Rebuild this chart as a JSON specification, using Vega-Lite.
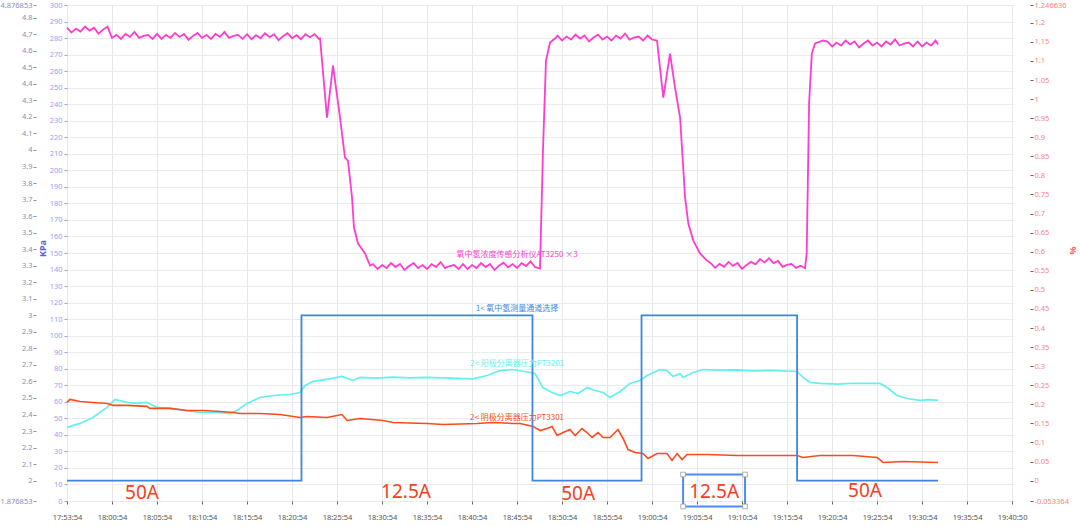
{
  "$schema": "https://vega.github.io/schema/vega-lite/v6.json",
  "width": 947,
  "height": 496,
  "autosize": {"type": "none"},
  "padding": {"left": 67, "top": 5, "right": 66, "bottom": 26},
  "background": "white",
  "config": {
    "view": {"stroke": null},
    "axis": {"labelFont": "Noto Sans", "titleFont": "Noto Sans", "labelFontSize": 7.5, "domain": false, "tickSize": 3, "labelOverlap": false, "labelBound": false, "labelFlush": false}
  },
  "datasets": {
    "lines": [
      {"s":"AT3250","t":"17:55:54","v":4.740},{"s":"AT3250","t":"17:56:24","v":4.710},{"s":"AT3250","t":"17:56:54","v":4.734},{"s":"AT3250","t":"17:57:24","v":4.716},{"s":"AT3250","t":"17:57:54","v":4.746},{"s":"AT3250","t":"17:58:24","v":4.722},{"s":"AT3250","t":"17:58:54","v":4.740},{"s":"AT3250","t":"17:59:24","v":4.704},{"s":"AT3250","t":"17:59:54","v":4.728},{"s":"AT3250","t":"18:00:24","v":4.746},
      {"s":"AT3250","t":"18:00:54","v":4.678},{"s":"AT3250","t":"18:01:24","v":4.696},{"s":"AT3250","t":"18:01:54","v":4.672},{"s":"AT3250","t":"18:02:24","v":4.702},{"s":"AT3250","t":"18:02:54","v":4.684},{"s":"AT3250","t":"18:03:24","v":4.714},{"s":"AT3250","t":"18:03:54","v":4.678},{"s":"AT3250","t":"18:04:24","v":4.690},{"s":"AT3250","t":"18:04:54","v":4.696},{"s":"AT3250","t":"18:05:24","v":4.672},
      {"s":"AT3250","t":"18:05:54","v":4.702},{"s":"AT3250","t":"18:06:24","v":4.672},{"s":"AT3250","t":"18:06:54","v":4.696},{"s":"AT3250","t":"18:07:24","v":4.678},{"s":"AT3250","t":"18:07:54","v":4.708},{"s":"AT3250","t":"18:08:24","v":4.684},{"s":"AT3250","t":"18:08:54","v":4.702},{"s":"AT3250","t":"18:09:24","v":4.666},{"s":"AT3250","t":"18:09:54","v":4.690},{"s":"AT3250","t":"18:10:24","v":4.708},
      {"s":"AT3250","t":"18:10:54","v":4.678},{"s":"AT3250","t":"18:11:24","v":4.696},{"s":"AT3250","t":"18:11:54","v":4.672},{"s":"AT3250","t":"18:12:24","v":4.702},{"s":"AT3250","t":"18:12:54","v":4.684},{"s":"AT3250","t":"18:13:24","v":4.714},{"s":"AT3250","t":"18:13:54","v":4.678},{"s":"AT3250","t":"18:14:24","v":4.690},{"s":"AT3250","t":"18:14:54","v":4.696},{"s":"AT3250","t":"18:15:24","v":4.672},
      {"s":"AT3250","t":"18:15:54","v":4.700},{"s":"AT3250","t":"18:16:24","v":4.670},{"s":"AT3250","t":"18:16:54","v":4.694},{"s":"AT3250","t":"18:17:24","v":4.676},{"s":"AT3250","t":"18:17:54","v":4.706},{"s":"AT3250","t":"18:18:24","v":4.682},{"s":"AT3250","t":"18:18:54","v":4.700},{"s":"AT3250","t":"18:19:24","v":4.664},{"s":"AT3250","t":"18:19:54","v":4.688},{"s":"AT3250","t":"18:20:24","v":4.706},
      {"s":"AT3250","t":"18:20:54","v":4.676},{"s":"AT3250","t":"18:21:24","v":4.694},{"s":"AT3250","t":"18:21:54","v":4.670},{"s":"AT3250","t":"18:22:24","v":4.700},{"s":"AT3250","t":"18:22:54","v":4.682},{"s":"AT3250","t":"18:23:24","v":4.700},{"s":"AT3250","t":"18:23:54","v":4.672},
      {"s":"AT3250","t":"18:24:01","v":4.674},{"s":"AT3250","t":"18:24:47","v":4.196},{"s":"AT3250","t":"18:25:27","v":4.511},{"s":"AT3250","t":"18:26:14","v":4.196},{"s":"AT3250","t":"18:26:47","v":3.954},{"s":"AT3250","t":"18:27:07","v":3.936},{"s":"AT3250","t":"18:27:34","v":3.713},{"s":"AT3250","t":"18:27:47","v":3.531},{"s":"AT3250","t":"18:28:14","v":3.434},{"s":"AT3250","t":"18:29:01","v":3.374},{"s":"AT3250","t":"18:29:34","v":3.301},
      {"s":"AT3250","t":"18:29:54","v":3.310},{"s":"AT3250","t":"18:30:24","v":3.280},{"s":"AT3250","t":"18:30:54","v":3.304},{"s":"AT3250","t":"18:31:24","v":3.286},{"s":"AT3250","t":"18:31:54","v":3.316},{"s":"AT3250","t":"18:32:24","v":3.292},{"s":"AT3250","t":"18:32:54","v":3.310},{"s":"AT3250","t":"18:33:24","v":3.274},{"s":"AT3250","t":"18:33:54","v":3.298},{"s":"AT3250","t":"18:34:24","v":3.316},
      {"s":"AT3250","t":"18:34:54","v":3.286},{"s":"AT3250","t":"18:35:24","v":3.304},{"s":"AT3250","t":"18:35:54","v":3.280},{"s":"AT3250","t":"18:36:24","v":3.310},{"s":"AT3250","t":"18:36:54","v":3.292},{"s":"AT3250","t":"18:37:24","v":3.322},{"s":"AT3250","t":"18:37:54","v":3.286},{"s":"AT3250","t":"18:38:24","v":3.298},{"s":"AT3250","t":"18:38:54","v":3.304},{"s":"AT3250","t":"18:39:24","v":3.280},
      {"s":"AT3250","t":"18:39:54","v":3.310},{"s":"AT3250","t":"18:40:24","v":3.280},{"s":"AT3250","t":"18:40:54","v":3.304},{"s":"AT3250","t":"18:41:24","v":3.286},{"s":"AT3250","t":"18:41:54","v":3.316},{"s":"AT3250","t":"18:42:24","v":3.292},{"s":"AT3250","t":"18:42:54","v":3.310},{"s":"AT3250","t":"18:43:24","v":3.274},{"s":"AT3250","t":"18:43:54","v":3.300},{"s":"AT3250","t":"18:44:24","v":3.318},
      {"s":"AT3250","t":"18:44:54","v":3.290},{"s":"AT3250","t":"18:45:24","v":3.310},{"s":"AT3250","t":"18:45:54","v":3.286},{"s":"AT3250","t":"18:46:24","v":3.316},{"s":"AT3250","t":"18:46:54","v":3.298},{"s":"AT3250","t":"18:47:24","v":3.326},{"s":"AT3250","t":"18:47:54","v":3.292},
      {"s":"AT3250","t":"18:48:27","v":3.283},{"s":"AT3250","t":"18:48:47","v":3.997},{"s":"AT3250","t":"18:49:07","v":4.541},{"s":"AT3250","t":"18:49:34","v":4.650},{"s":"AT3250","t":"18:50:07","v":4.674},
      {"s":"AT3250","t":"18:50:24","v":4.692},{"s":"AT3250","t":"18:50:54","v":4.662},{"s":"AT3250","t":"18:51:24","v":4.686},{"s":"AT3250","t":"18:51:54","v":4.668},{"s":"AT3250","t":"18:52:24","v":4.698},{"s":"AT3250","t":"18:52:54","v":4.674},{"s":"AT3250","t":"18:53:24","v":4.692},{"s":"AT3250","t":"18:53:54","v":4.656},{"s":"AT3250","t":"18:54:24","v":4.680},{"s":"AT3250","t":"18:54:54","v":4.698},
      {"s":"AT3250","t":"18:55:24","v":4.668},{"s":"AT3250","t":"18:55:54","v":4.686},{"s":"AT3250","t":"18:56:24","v":4.662},{"s":"AT3250","t":"18:56:54","v":4.692},{"s":"AT3250","t":"18:57:24","v":4.674},{"s":"AT3250","t":"18:57:54","v":4.704},{"s":"AT3250","t":"18:58:24","v":4.668},{"s":"AT3250","t":"18:58:54","v":4.680},{"s":"AT3250","t":"18:59:24","v":4.686},{"s":"AT3250","t":"18:59:54","v":4.662},
      {"s":"AT3250","t":"19:00:24","v":4.692},{"s":"AT3250","t":"19:00:54","v":4.668},
      {"s":"AT3250","t":"19:01:27","v":4.662},{"s":"AT3250","t":"19:02:09","v":4.317},{"s":"AT3250","t":"19:02:54","v":4.583},{"s":"AT3250","t":"19:03:27","v":4.378},{"s":"AT3250","t":"19:04:01","v":4.196},{"s":"AT3250","t":"19:04:23","v":3.876},{"s":"AT3250","t":"19:04:34","v":3.713},{"s":"AT3250","t":"19:04:56","v":3.555},{"s":"AT3250","t":"19:05:29","v":3.452},{"s":"AT3250","t":"19:06:14","v":3.374},{"s":"AT3250","t":"19:06:59","v":3.332},
      {"s":"AT3250","t":"19:07:24","v":3.317},{"s":"AT3250","t":"19:07:54","v":3.287},{"s":"AT3250","t":"19:08:24","v":3.311},{"s":"AT3250","t":"19:08:54","v":3.293},{"s":"AT3250","t":"19:09:24","v":3.323},{"s":"AT3250","t":"19:09:54","v":3.299},{"s":"AT3250","t":"19:10:24","v":3.317},{"s":"AT3250","t":"19:10:54","v":3.281},{"s":"AT3250","t":"19:11:24","v":3.305},{"s":"AT3250","t":"19:11:54","v":3.323},
      {"s":"AT3250","t":"19:12:24","v":3.308},{"s":"AT3250","t":"19:12:54","v":3.340},{"s":"AT3250","t":"19:13:24","v":3.320},{"s":"AT3250","t":"19:13:54","v":3.345},{"s":"AT3250","t":"19:14:24","v":3.316},{"s":"AT3250","t":"19:14:54","v":3.329},{"s":"AT3250","t":"19:15:24","v":3.293},{"s":"AT3250","t":"19:15:54","v":3.305},{"s":"AT3250","t":"19:16:24","v":3.311},{"s":"AT3250","t":"19:16:54","v":3.287},
      {"s":"AT3250","t":"19:17:24","v":3.300},{"s":"AT3250","t":"19:17:54","v":3.285},{"s":"AT3250","t":"19:18:05","v":3.374},{"s":"AT3250","t":"19:18:21","v":4.281},{"s":"AT3250","t":"19:18:39","v":4.583},{"s":"AT3250","t":"19:19:01","v":4.644},{"s":"AT3250","t":"19:19:54","v":4.662},
      {"s":"AT3250","t":"19:20:24","v":4.656},{"s":"AT3250","t":"19:20:54","v":4.626},{"s":"AT3250","t":"19:21:24","v":4.650},{"s":"AT3250","t":"19:21:54","v":4.632},{"s":"AT3250","t":"19:22:24","v":4.662},{"s":"AT3250","t":"19:22:54","v":4.638},{"s":"AT3250","t":"19:23:24","v":4.656},{"s":"AT3250","t":"19:23:54","v":4.620},{"s":"AT3250","t":"19:24:24","v":4.644},{"s":"AT3250","t":"19:24:54","v":4.662},
      {"s":"AT3250","t":"19:25:24","v":4.632},{"s":"AT3250","t":"19:25:54","v":4.650},{"s":"AT3250","t":"19:26:24","v":4.626},{"s":"AT3250","t":"19:26:54","v":4.656},{"s":"AT3250","t":"19:27:24","v":4.638},{"s":"AT3250","t":"19:27:54","v":4.668},{"s":"AT3250","t":"19:28:24","v":4.632},{"s":"AT3250","t":"19:28:54","v":4.644},{"s":"AT3250","t":"19:29:24","v":4.650},{"s":"AT3250","t":"19:29:54","v":4.626},
      {"s":"AT3250","t":"19:30:24","v":4.656},{"s":"AT3250","t":"19:30:54","v":4.626},{"s":"AT3250","t":"19:31:24","v":4.650},{"s":"AT3250","t":"19:31:54","v":4.632},{"s":"AT3250","t":"19:32:24","v":4.662},{"s":"AT3250","t":"19:32:41","v":4.638},

      {"s":"PT3201","t":"17:55:54","v":2.322},{"s":"PT3201","t":"17:57:21","v":2.346},{"s":"PT3201","t":"17:58:47","v":2.382},{"s":"PT3201","t":"18:00:21","v":2.443},{"s":"PT3201","t":"18:01:14","v":2.491},{"s":"PT3201","t":"18:02:34","v":2.473},{"s":"PT3201","t":"18:03:41","v":2.467},{"s":"PT3201","t":"18:04:47","v":2.473},{"s":"PT3201","t":"18:05:54","v":2.443},{"s":"PT3201","t":"18:07:21","v":2.437},
      {"s":"PT3201","t":"18:09:14","v":2.424},{"s":"PT3201","t":"18:10:41","v":2.412},{"s":"PT3201","t":"18:12:34","v":2.412},{"s":"PT3201","t":"18:14:01","v":2.406},{"s":"PT3201","t":"18:14:47","v":2.424},{"s":"PT3201","t":"18:15:54","v":2.467},{"s":"PT3201","t":"18:17:21","v":2.503},{"s":"PT3201","t":"18:18:47","v":2.515},{"s":"PT3201","t":"18:20:41","v":2.521},{"s":"PT3201","t":"18:21:47","v":2.533},
      {"s":"PT3201","t":"18:22:21","v":2.576},{"s":"PT3201","t":"18:23:14","v":2.600},{"s":"PT3201","t":"18:24:47","v":2.612},{"s":"PT3201","t":"18:26:27","v":2.630},{"s":"PT3201","t":"18:27:41","v":2.606},{"s":"PT3201","t":"18:28:27","v":2.624},{"s":"PT3201","t":"18:30:10","v":2.620},{"s":"PT3201","t":"18:32:07","v":2.626},{"s":"PT3201","t":"18:34:00","v":2.621},{"s":"PT3201","t":"18:35:54","v":2.625},
      {"s":"PT3201","t":"18:38:30","v":2.620},{"s":"PT3201","t":"18:41:01","v":2.616},{"s":"PT3201","t":"18:42:34","v":2.636},{"s":"PT3201","t":"18:44:01","v":2.666},{"s":"PT3201","t":"18:45:27","v":2.672},{"s":"PT3201","t":"18:47:21","v":2.654},{"s":"PT3201","t":"18:47:54","v":2.648},{"s":"PT3201","t":"18:48:47","v":2.563},{"s":"PT3201","t":"18:49:47","v":2.533},{"s":"PT3201","t":"18:50:41","v":2.515},
      {"s":"PT3201","t":"18:51:47","v":2.539},{"s":"PT3201","t":"18:52:41","v":2.527},{"s":"PT3201","t":"18:53:41","v":2.563},{"s":"PT3201","t":"18:54:34","v":2.545},{"s":"PT3201","t":"18:55:27","v":2.533},{"s":"PT3201","t":"18:56:14","v":2.503},{"s":"PT3201","t":"18:57:21","v":2.539},{"s":"PT3201","t":"18:58:27","v":2.588},{"s":"PT3201","t":"18:59:34","v":2.606},{"s":"PT3201","t":"19:00:21","v":2.636},
      {"s":"PT3201","t":"19:01:47","v":2.672},{"s":"PT3201","t":"19:02:34","v":2.666},{"s":"PT3201","t":"19:03:14","v":2.630},{"s":"PT3201","t":"19:04:01","v":2.648},{"s":"PT3201","t":"19:04:21","v":2.624},{"s":"PT3201","t":"19:05:27","v":2.654},{"s":"PT3201","t":"19:06:34","v":2.672},{"s":"PT3201","t":"19:08:30","v":2.668},{"s":"PT3201","t":"19:10:21","v":2.670},{"s":"PT3201","t":"19:12:10","v":2.664},
      {"s":"PT3201","t":"19:14:01","v":2.667},{"s":"PT3201","t":"19:17:01","v":2.660},{"s":"PT3201","t":"19:17:41","v":2.624},{"s":"PT3201","t":"19:18:27","v":2.594},{"s":"PT3201","t":"19:19:34","v":2.588},{"s":"PT3201","t":"19:21:30","v":2.584},{"s":"PT3201","t":"19:23:14","v":2.589},{"s":"PT3201","t":"19:26:14","v":2.588},{"s":"PT3201","t":"19:27:01","v":2.563},{"s":"PT3201","t":"19:28:07","v":2.515},
      {"s":"PT3201","t":"19:29:14","v":2.497},{"s":"PT3201","t":"19:30:41","v":2.485},{"s":"PT3201","t":"19:31:40","v":2.490},{"s":"PT3201","t":"19:32:41","v":2.485},

      {"s":"PT3301","t":"17:55:54","v":2.473},{"s":"PT3301","t":"17:56:14","v":2.491},{"s":"PT3301","t":"17:57:21","v":2.479},{"s":"PT3301","t":"17:58:47","v":2.473},{"s":"PT3301","t":"18:00:21","v":2.467},{"s":"PT3301","t":"18:01:01","v":2.455},{"s":"PT3301","t":"18:02:34","v":2.455},{"s":"PT3301","t":"18:04:47","v":2.449},{"s":"PT3301","t":"18:05:07","v":2.437},{"s":"PT3301","t":"18:07:21","v":2.437},
      {"s":"PT3301","t":"18:09:14","v":2.424},{"s":"PT3301","t":"18:11:01","v":2.424},{"s":"PT3301","t":"18:12:54","v":2.418},{"s":"PT3301","t":"18:14:21","v":2.412},{"s":"PT3301","t":"18:15:07","v":2.406},{"s":"PT3301","t":"18:17:21","v":2.406},{"s":"PT3301","t":"18:19:34","v":2.400},{"s":"PT3301","t":"18:21:47","v":2.382},{"s":"PT3301","t":"18:22:34","v":2.388},{"s":"PT3301","t":"18:24:47","v":2.382},
      {"s":"PT3301","t":"18:26:27","v":2.400},{"s":"PT3301","t":"18:27:01","v":2.364},{"s":"PT3301","t":"18:28:27","v":2.376},{"s":"PT3301","t":"18:31:01","v":2.364},{"s":"PT3301","t":"18:32:07","v":2.352},{"s":"PT3301","t":"18:35:54","v":2.346},{"s":"PT3301","t":"18:37:41","v":2.340},{"s":"PT3301","t":"18:41:27","v":2.346},{"s":"PT3301","t":"18:43:14","v":2.352},{"s":"PT3301","t":"18:45:27","v":2.346},
      {"s":"PT3301","t":"18:46:14","v":2.346},{"s":"PT3301","t":"18:47:41","v":2.328},{"s":"PT3301","t":"18:48:27","v":2.303},{"s":"PT3301","t":"18:49:14","v":2.315},{"s":"PT3301","t":"18:49:47","v":2.328},{"s":"PT3301","t":"18:50:21","v":2.273},{"s":"PT3301","t":"18:51:01","v":2.291},{"s":"PT3301","t":"18:51:47","v":2.309},{"s":"PT3301","t":"18:52:21","v":2.273},{"s":"PT3301","t":"18:53:07","v":2.315},
      {"s":"PT3301","t":"18:53:41","v":2.291},{"s":"PT3301","t":"18:54:14","v":2.261},{"s":"PT3301","t":"18:54:54","v":2.291},{"s":"PT3301","t":"18:55:27","v":2.261},{"s":"PT3301","t":"18:56:14","v":2.261},{"s":"PT3301","t":"18:57:07","v":2.309},{"s":"PT3301","t":"18:57:41","v":2.255},{"s":"PT3301","t":"18:58:14","v":2.188},{"s":"PT3301","t":"18:59:01","v":2.170},{"s":"PT3301","t":"18:59:54","v":2.164},
      {"s":"PT3301","t":"19:00:27","v":2.134},{"s":"PT3301","t":"19:01:27","v":2.164},{"s":"PT3301","t":"19:02:34","v":2.164},{"s":"PT3301","t":"19:03:07","v":2.122},{"s":"PT3301","t":"19:03:41","v":2.164},{"s":"PT3301","t":"19:04:14","v":2.128},{"s":"PT3301","t":"19:04:47","v":2.158},{"s":"PT3301","t":"19:07:01","v":2.158},{"s":"PT3301","t":"19:10:21","v":2.152},{"s":"PT3301","t":"19:14:01","v":2.152},
      {"s":"PT3301","t":"19:17:01","v":2.152},{"s":"PT3301","t":"19:17:41","v":2.140},{"s":"PT3301","t":"19:19:34","v":2.152},{"s":"PT3301","t":"19:23:14","v":2.152},{"s":"PT3301","t":"19:25:54","v":2.140},{"s":"PT3301","t":"19:26:34","v":2.110},{"s":"PT3301","t":"19:28:47","v":2.116},{"s":"PT3301","t":"19:32:41","v":2.110}
    ],
    "step": [
      {"t":"17:55:54","v":2},{"t":"18:21:57","v":3},{"t":"18:47:37","v":2},{"t":"18:59:44","v":3},{"t":"19:17:01","v":2},{"t":"19:32:41","v":2}
    ],
    "labels": [
      {"s":"AT3250","t":"18:45:54","v":3.362,"txt":"氧中氢浓度传感分析仪AT3250 ×3"},
      {"s":"CH","t":"18:45:54","v":3.041,"txt":"1< 氧中氢测量通道选择"},
      {"s":"PT3201","t":"18:45:54","v":2.703,"txt":"2< 阳极分离器压力PT3201"},
      {"s":"PT3301","t":"18:45:54","v":2.376,"txt":"2< 阴极分离器压力PT3301"}
    ],
    "notes": [
      {"t":"18:04:14","v":1.928,"txt":"50A"},
      {"t":"18:33:34","v":1.934,"txt":"12.5A"},
      {"t":"18:52:41","v":1.922,"txt":"50A"},
      {"t":"19:07:48","v":1.934,"txt":"12.5A"},
      {"t":"19:24:34","v":1.940,"txt":"50A"}
    ],
    "box": [{"t":"19:04:21","t2":"19:11:14","v":2.037,"v2":1.844}],
    "handles": [
      {"t":"19:04:21","v":2.037},{"t":"19:11:14","v":2.037},{"t":"19:04:21","v":1.844},{"t":"19:11:14","v":1.844}
    ],
    "pin": [{"t":"19:07:41","v":2.152,"v2":2.037}],
    "kpa": [{"a":0},{"a":300}],
    "pct": [{"b":-0.053364},{"b":1.246636}]
  },
  "layer": [
    {
      "data": {"name": "lines", "format": {"parse": {"t": "utc:'%H:%M:%S'"}}},
      "mark": {"type": "line"},
      "encoding": {
        "x": {
          "field": "t", "type": "temporal",
          "scale": {"type": "utc", "domain": [-2208924246000, -2208917933000]},
          "axis": {
            "orient": "bottom", "title": null, "grid": true, "gridColor": "#e8e8e8", "tickColor": "#666", "tickSize": 3, "labelColor": "#555", "labelPadding": 9, "labelFlush": false,
            "values": [-2208924246000,-2208923946000,-2208923646000,-2208923346000,-2208923046000,-2208922746000,-2208922446000,-2208922146000,-2208921846000,-2208921546000,-2208921246000,-2208920946000,-2208920646000,-2208920346000,-2208920046000,-2208919746000,-2208919446000,-2208919146000,-2208918846000,-2208918546000,-2208918246000,-2208917946000],
            "format": "%H:%M:%S",
            "labelExpr": "datum.label == '17:55:54' ? '17:53:54' : (datum.label == '19:40:54' ? '19:40:50' : datum.label)"
          }
        },
        "y": {
          "field": "v", "type": "quantitative",
          "scale": {"domain": [1.876853, 4.876853], "nice": false, "zero": false},
          "axis": {
            "orient": "left", "offset": 31, "title": null, "grid": false, "labelColor": "#8a8db8", "tickColor": "#8a8db8", "labelPadding": 1,
            "values": [1.876853,2,2.1,2.2,2.3,2.4,2.5,2.6,2.7,2.8,2.9,3,3.1,3.2,3.3,3.4,3.5,3.6,3.7,3.8,3.9,4,4.1,4.2,4.3,4.4,4.5,4.6,4.7,4.8,4.876853],
            "labelExpr": "'' + round(datum.value*1000000)/1000000"
          }
        },
        "color": {"field": "s", "type": "nominal", "scale": {"domain": ["AT3250","PT3201","PT3301","CH"], "range": ["#ff3ccf","#62f0f0","#ff4a1c","#3d86e0"]}, "legend": null},
        "strokeWidth": {"field": "s", "type": "nominal", "scale": {"domain": ["AT3250","PT3201","PT3301","CH"], "range": [1.8,1.5,1.5,2]}, "legend": null}
      }
    },
    {
      "data": {"name": "kpa"},
      "mark": {"type": "point", "opacity": 0},
      "encoding": {
        "y": {
          "field": "a", "type": "quantitative",
          "scale": {"domain": [0, 300], "nice": false, "zero": false},
          "axis": {
            "orient": "left", "offset": 0, "grid": true, "gridColor": "#ebebeb", "labelColor": "#9d9df2", "tickColor": "#9d9df2", "labelPadding": 2,
            "values": [0,10,20,30,40,50,60,70,80,90,100,110,120,130,140,150,160,170,180,190,200,210,220,230,240,250,260,270,280,290,300],
            "format": "d",
            "title": "KPa", "titleColor": "#5c5ce6", "titleFontWeight": "bold", "titleFontSize": 9, "titleAngle": 270, "titleX": -25, "titleY": 243, "titleAlign": "center", "titleBaseline": "middle"
          }
        }
      }
    },
    {
      "data": {"name": "pct"},
      "mark": {"type": "point", "opacity": 0},
      "encoding": {
        "y": {
          "field": "b", "type": "quantitative",
          "scale": {"domain": [-0.053364, 1.246636], "nice": false, "zero": false},
          "axis": {
            "orient": "right", "offset": 16, "grid": false, "labelColor": "#ff8080", "tickColor": "#666", "labelPadding": 1,
            "values": [-0.053364,0,0.05,0.1,0.15,0.2,0.25,0.3,0.35,0.4,0.45,0.5,0.55,0.6,0.65,0.7,0.75,0.8,0.85,0.9,0.95,1,1.05,1.1,1.15,1.2,1.246636],
            "labelExpr": "'' + round(datum.value*1000000)/1000000",
            "title": "%", "titleColor": "#ff5a5a", "titleFontSize": 9, "titleAngle": 90, "titleX": 42, "titleY": 245, "titleAlign": "center", "titleBaseline": "middle"
          }
        }
      }
    },
    {
      "data": {"name": "step", "format": {"parse": {"t": "utc:'%H:%M:%S'"}}},
      "mark": {"type": "line", "interpolate": "step-after", "color": "#3d86e0", "strokeWidth": 1.8},
      "encoding": {
        "x": {"field": "t", "type": "temporal"},
        "y": {"field": "v", "type": "quantitative", "scale": {"domain": [1.876853, 4.876853], "nice": false, "zero": false}, "axis": null}
      }
    },
    {
      "data": {"name": "labels", "format": {"parse": {"t": "utc:'%H:%M:%S'"}}},
      "mark": {"type": "text", "font": "Noto Sans CJK SC", "fontSize": 8, "align": "center", "baseline": "middle"},
      "encoding": {
        "x": {"field": "t", "type": "temporal"},
        "y": {"field": "v", "type": "quantitative", "scale": {"domain": [1.876853, 4.876853], "nice": false, "zero": false}, "axis": null},
        "text": {"field": "txt"},
        "color": {"field": "s", "type": "nominal", "legend": null}
      }
    },
    {
      "data": {"name": "box", "format": {"parse": {"t": "utc:'%H:%M:%S'", "t2": "utc:'%H:%M:%S'"}}},
      "mark": {"type": "rect", "filled": false, "stroke": "#4d8df5", "strokeWidth": 2},
      "encoding": {
        "x": {"field": "t", "type": "temporal"},
        "x2": {"field": "t2"},
        "y": {"field": "v", "type": "quantitative", "scale": {"domain": [1.876853, 4.876853], "nice": false, "zero": false}, "axis": null},
        "y2": {"field": "v2"}
      }
    },
    {
      "data": {"name": "pin", "format": {"parse": {"t": "utc:'%H:%M:%S'"}}},
      "mark": {"type": "rule", "color": "#4d8df5", "strokeWidth": 1.5},
      "encoding": {
        "x": {"field": "t", "type": "temporal"},
        "y": {"field": "v", "type": "quantitative", "scale": {"domain": [1.876853, 4.876853], "nice": false, "zero": false}, "axis": null},
        "y2": {"field": "v2"}
      }
    },
    {
      "data": {"name": "handles", "format": {"parse": {"t": "utc:'%H:%M:%S'"}}},
      "mark": {"type": "square", "size": 22, "filled": true, "fill": "white", "stroke": "#9a9a9a", "strokeWidth": 0.8, "opacity": 1},
      "encoding": {
        "x": {"field": "t", "type": "temporal"},
        "y": {"field": "v", "type": "quantitative", "scale": {"domain": [1.876853, 4.876853], "nice": false, "zero": false}, "axis": null}
      }
    },
    {
      "data": {"name": "pin", "format": {"parse": {"t": "utc:'%H:%M:%S'"}}},
      "mark": {"type": "circle", "size": 140, "fill": "#3d86e8", "stroke": "#cfe0fb", "strokeWidth": 2, "opacity": 1},
      "encoding": {
        "x": {"field": "t", "type": "temporal"},
        "y": {"field": "v", "type": "quantitative", "scale": {"domain": [1.876853, 4.876853], "nice": false, "zero": false}, "axis": null}
      }
    },
    {
      "data": {"name": "pin", "format": {"parse": {"t": "utc:'%H:%M:%S'"}}},
      "mark": {"type": "text", "text": "↻", "font": "DejaVu Sans", "fontSize": 9, "fontWeight": "bold", "color": "white", "align": "center", "baseline": "middle"},
      "encoding": {
        "x": {"field": "t", "type": "temporal"},
        "y": {"field": "v", "type": "quantitative", "scale": {"domain": [1.876853, 4.876853], "nice": false, "zero": false}, "axis": null}
      }
    },
    {
      "data": {"name": "notes", "format": {"parse": {"t": "utc:'%H:%M:%S'"}}},
      "mark": {"type": "text", "font": "Noto Sans", "fontSize": 19, "color": "#f4401e", "align": "center", "baseline": "middle"},
      "encoding": {
        "x": {"field": "t", "type": "temporal"},
        "y": {"field": "v", "type": "quantitative", "scale": {"domain": [1.876853, 4.876853], "nice": false, "zero": false}, "axis": null},
        "text": {"field": "txt"}
      }
    }
  ],
  "resolve": {"scale": {"y": "independent"}, "axis": {"y": "independent"}}
}
